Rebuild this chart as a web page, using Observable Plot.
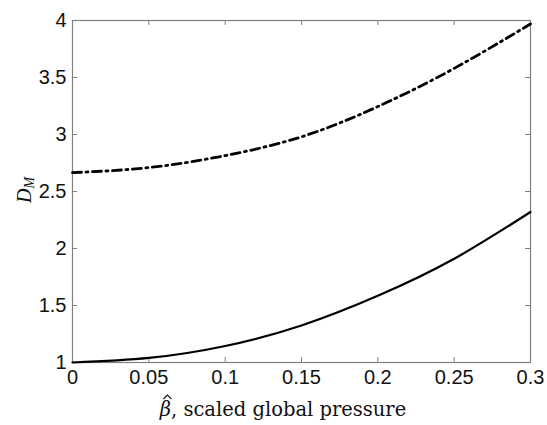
<!DOCTYPE html>
<html>
<head>
<meta charset="utf-8">
<script src="https://cdn.jsdelivr.net/npm/d3@7"></script>
<script src="https://cdn.jsdelivr.net/npm/@observablehq/plot@0.6"></script>
<style>
  html, body { margin: 0; padding: 0; background: #fff; }
</style>
</head>
<body>
<div id="chart"></div>
<script>
// Data
const beta = [0, 0.05, 0.1, 0.15, 0.2, 0.25, 0.3];
const solidDM = [1.0, 1.04, 1.145, 1.325, 1.585, 1.91, 2.32];
const dashDotDM = [2.665, 2.71, 2.815, 2.98, 3.245, 3.58, 3.97];
const xTicks = [0, 0.05, 0.1, 0.15, 0.2, 0.25, 0.3];
const yTicks = [1, 1.5, 2, 2.5, 3, 3.5, 4];

const solidData = beta.map((b, i) => ({x: b, y: solidDM[i]}));
const dashData = beta.map((b, i) => ({x: b, y: dashDotDM[i]}));

const W = 547, H = 425;
const xDom = [0, 0.3], yDom = [1, 4];
const tickLenX = 0.3 * 5 / 458;   // ~5px in data units
const tickLenY = 3 * 5 / 342;

const plot = Plot.plot({
  width: W,
  height: H,
  marginLeft: 72,
  marginRight: 17,
  marginTop: 20,
  marginBottom: 63,
  style: {fontFamily: "'Liberation Sans', Arial, sans-serif", background: "#fff"},
  x: {domain: xDom},
  y: {domain: yDom},
  marks: [
    Plot.frame({stroke: "#808080", strokeWidth: 1.2}),
    // inward ticks, bottom & top
    Plot.ruleX(xTicks, {x: d => d, y1: yDom[0], y2: yDom[0] + tickLenY, stroke: "#808080"}),
    Plot.ruleX(xTicks, {x: d => d, y1: yDom[1], y2: yDom[1] - tickLenY, stroke: "#808080"}),
    // inward ticks, left & right
    Plot.ruleY(yTicks, {y: d => d, x1: xDom[0], x2: xDom[0] + tickLenX, stroke: "#808080"}),
    Plot.ruleY(yTicks, {y: d => d, x1: xDom[1], x2: xDom[1] - tickLenX, stroke: "#808080"}),
    Plot.axisX(xTicks, {tickSize: 0, tickPadding: 7, fontSize: 20, fill: "#111", label: null, tickFormat: d => String(d)}),
    Plot.axisY(yTicks, {tickSize: 0, tickPadding: 6, fontSize: 20, fill: "#111", label: null, tickFormat: d => String(d)}),
    Plot.line(solidData, {x: "x", y: "y", stroke: "#000", strokeWidth: 2.2, curve: "natural"}),
    Plot.line(dashData, {x: "x", y: "y", stroke: "#000", strokeWidth: 2.8, curve: "natural", strokeDasharray: "9,4.5,2,4.5"})
  ]
});

document.getElementById("chart").appendChild(plot);

const svg = d3.select(plot);
const serif = "'DejaVu Serif', 'Liberation Serif', serif";
// x-axis label
const xl = svg.append("text")
  .attr("x", 283).attr("y", 416)
  .attr("text-anchor", "middle")
  .attr("font-family", serif)
  .attr("font-size", 19.5)
  .attr("fill", "#111");
xl.append("tspan").attr("font-style", "italic").text("\u03B2");
xl.append("tspan").text(", scaled global pressure");
// hat over beta (drawn as a small caret path)
let hx = 164;
try {
  const ext = xl.node().getExtentOfChar(0);
  hx = ext.x + ext.width / 2 + 2;
} catch (e) {}
svg.append("path")
  .attr("d", `M${hx - 4},${399} L${hx},${395} L${hx + 4},${399}`)
  .attr("fill", "none")
  .attr("stroke", "#111")
  .attr("stroke-width", 1.1);

// y-axis label
const yl = svg.append("text")
  .attr("transform", "translate(31,190) rotate(-90)")
  .attr("text-anchor", "middle")
  .attr("font-family", "'Liberation Serif', 'DejaVu Serif', serif")
  .attr("font-size", 20)
  .attr("font-style", "italic")
  .attr("fill", "#111");
yl.append("tspan").text("D");
yl.append("tspan").attr("font-size", 14).attr("dy", 3).text("M");
</script>
</body>
</html>
